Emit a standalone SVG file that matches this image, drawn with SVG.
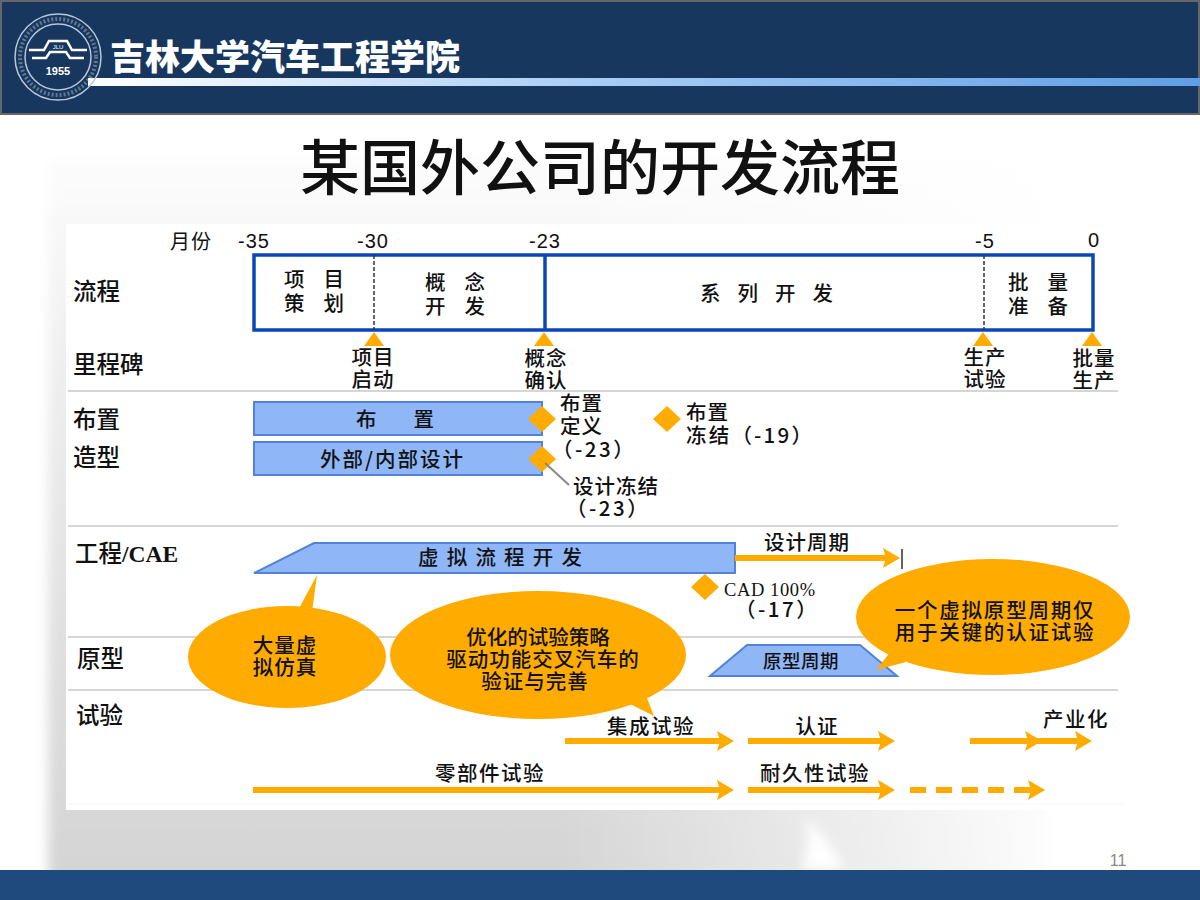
<svg xmlns="http://www.w3.org/2000/svg" width="1200" height="900" viewBox="0 0 1200 900">
<defs>
<linearGradient id="barGrad" x1="0" x2="1" y1="0" y2="0"><stop offset="0" stop-color="#ffffff"/><stop offset="0.45" stop-color="#a9cdf5"/><stop offset="1" stop-color="#5f9fe6"/></linearGradient>
<linearGradient id="vFade" x1="0" x2="0" y1="0" y2="1"><stop offset="0" stop-color="#fcfcfc"/><stop offset="0.35" stop-color="#ececec"/><stop offset="0.75" stop-color="#dcdcdc"/><stop offset="1" stop-color="#d4d4d4"/></linearGradient>
<linearGradient id="hFade" x1="0" x2="1" y1="0" y2="0"><stop offset="0" stop-color="#fff" stop-opacity="0"/><stop offset="1" stop-color="#fff"/></linearGradient>
<filter id="soft" x="-5%" y="-5%" width="110%" height="110%"><feGaussianBlur stdDeviation="6"/></filter>
<marker id="head" markerUnits="userSpaceOnUse" viewBox="0 0 17 20" refX="9" refY="10" markerWidth="17" markerHeight="20" orient="auto"><path d="M0 0L17 10L0 20L3 10Z" fill="#ffab00"/></marker>
</defs>
<style>
text{font-family:"Noto Sans CJK SC","Liberation Serif",sans-serif;fill:#111;font-weight:500}
.lab{font-size:23.5px}
.m{font-size:20.5px;letter-spacing:1px;text-anchor:middle}
.s{font-size:20.5px}
.num{font-family:"Liberation Serif","Noto Sans CJK SC",serif;font-weight:700}
.axis{font-size:20px;text-anchor:middle;letter-spacing:1px;font-weight:400;font-family:"Liberation Sans","Noto Sans CJK SC",sans-serif}
.grid{stroke:#d6d6d6;stroke-width:2;fill:none}
.bar{fill:#8fb6f7;stroke:#5482d6;stroke-width:2}
.arr{stroke:#ffab00;stroke-width:6;fill:none;marker-end:url(#head)}
.dia{fill:#ffab00}
.call{fill:#ffab00}
.frame{fill:#fff;stroke:#0b46b8;stroke-width:3.5}
</style>

<rect width="1200" height="900" fill="#fff"/>
<g id="background">
<rect x="48" y="160" width="1000" height="730" fill="url(#vFade)" filter="url(#soft)"/>
<rect x="560" y="140" width="520" height="740" fill="url(#hFade)"/>
<rect x="1080" y="140" width="120" height="740" fill="#fff"/>
<path d="M800 870Q815 840 803 815Q830 840 845 870Z" fill="#fff" filter="url(#soft)"/>
</g>

<g id="header">
<rect x="1" y="1" width="1198" height="113" fill="#17375e" stroke="#666" stroke-width="2"/>
<rect x="88" y="78" width="1112" height="8" fill="url(#barGrad)"/>
<text x="110" y="70" font-size="35" style="fill:#fff;font-weight:900">吉林大学汽车工程学院</text>
</g>

<g id="logo" fill="none" stroke="#b9c7d8">
<circle cx="58" cy="57" r="43" stroke-width="1.5"/>
<circle cx="58" cy="57" r="38" stroke-width="4" stroke-dasharray="2 2" opacity=".45"/>
<circle cx="58" cy="57" r="33" stroke-width="1.5"/>
<path d="M29 50H44L49 41H67L72 50H87M32 58H46L50 52H66L70 58H84" stroke="#fff" stroke-width="2.5"/>
<text x="58" y="49" font-size="6" text-anchor="middle" stroke="none" style="fill:#fff;font-family:'Liberation Sans',sans-serif">JLU</text>
<text x="58" y="75" font-size="11" text-anchor="middle" stroke="none" style="fill:#fff;font-weight:700;font-family:'Liberation Sans',sans-serif">1955</text>
</g>

<text id="title" x="600" y="190" font-size="60" text-anchor="middle">某国外公司的开发流程</text>

<rect id="panel" x="66" y="224" width="1056" height="586" fill="#fff"/>

<g id="grid-lines">
<path class="grid" d="M68 391H1118M68 526H1118M68 637H1118M68 690H1118"/>
<path d="M68 804H1122" stroke="#f4f4f4" stroke-width="1"/>
</g>

<g id="axis">
<text x="170" y="249" style="font-size:20px;font-weight:400" letter-spacing="1">月份</text>
<text class="axis" x="254" y="248">-35</text>
<text class="axis" x="373" y="248">-30</text>
<text class="axis" x="545" y="248">-23</text>
<text class="axis" x="985" y="248">-5</text>
<text class="axis" x="1094" y="247">0</text>
</g>

<g id="row-labels">
<text class="lab" x="73" y="300">流程</text>
<text class="lab" x="73" y="373">里程碑</text>
<text class="lab" x="73" y="428">布置</text>
<text class="lab" x="73" y="466">造型</text>
<text class="lab" x="75" y="562">工程<tspan class="num">/CAE</tspan></text>
<text class="lab" x="77" y="667">原型</text>
<text class="lab" x="76" y="724">试验</text>
</g>

<g id="node-flow">
<rect class="frame" x="254" y="255" width="839" height="75"/>
<path d="M545 255V330" stroke="#0b46b8" stroke-width="3.5"/>
<path d="M374 255V330M984 255V330" stroke="#333" stroke-width="1.5" stroke-dasharray="4 2"/>
<text class="s" letter-spacing="19" y="287"><tspan x="284">项目</tspan><tspan x="284" dy="24">策划</tspan></text>
<text class="s" letter-spacing="19" y="290"><tspan x="425">概念</tspan><tspan x="425" dy="24">开发</tspan></text>
<text class="s" letter-spacing="17" x="700" y="301">系列开发</text>
<text class="s" letter-spacing="19" y="290"><tspan x="1008">批量</tspan><tspan x="1008" dy="24">准备</tspan></text>
</g>

<g id="node-milestones">
<path class="dia" d="M374 332L384 346H364Z"/>
<path class="dia" d="M544 332L554 346H534Z"/>
<path class="dia" d="M983 332L993 346H973Z"/>
<path class="dia" d="M1092 332L1102 346H1082Z"/>
<text class="m" y="365"><tspan x="373">项目</tspan><tspan x="373" dy="22">启动</tspan></text>
<text class="m" y="366"><tspan x="546">概念</tspan><tspan x="546" dy="22">确认</tspan></text>
<text class="m" y="365"><tspan x="985">生产</tspan><tspan x="985" dy="22">试验</tspan></text>
<text class="m" y="366"><tspan x="1094">批量</tspan><tspan x="1094" dy="22">生产</tspan></text>
</g>

<g id="node-layout">
<rect class="bar" x="254" y="402" width="288" height="33"/>
<text class="s" x="356" y="427" letter-spacing="37">布置</text>
<rect class="bar" x="254" y="442" width="288" height="33"/>
<text class="s" x="320" y="467" letter-spacing="2">外部/内部设计</text>
<path class="dia" d="M542 406L556 419L542 432L528 419Z"/>
<path class="dia" d="M542 446L556 459L542 472L528 459Z"/>
<path class="dia" d="M667 406L681 419L667 432L653 419Z"/>
<path d="M545 463L569 485" stroke="#888" stroke-width="2"/>
<text class="s" y="411" letter-spacing="1"><tspan x="560">布置</tspan><tspan x="560" dy="23">定义</tspan><tspan x="552" dy="23" letter-spacing="2.5">（-23）</tspan></text>
<text class="s" y="420" letter-spacing="1"><tspan x="686">布置</tspan><tspan x="686" dy="23" letter-spacing="2.2">冻结（-19）</tspan></text>
<text class="s" y="494" letter-spacing="1"><tspan x="573">设计冻结</tspan><tspan x="566" dy="22" letter-spacing="2.5">（-23）</tspan></text>
</g>

<g id="node-cae">
<path class="bar" d="M254 573L314 543H735V573Z"/>
<text class="s" x="418" y="565" letter-spacing="8.2">虚拟流程开发</text>
<path class="dia" d="M705 574L719 587L705 600L691 587Z"/>
<text y="596"><tspan class="num" x="724" style="font-size:18.5px;font-weight:400" letter-spacing="0.6">CAD 100%</tspan><tspan class="s" x="735" dy="21" letter-spacing="2.5">（-17）</tspan></text>
<text class="m" x="807" y="550">设计周期</text>
<path d="M902 549V569" stroke="#333" stroke-width="1.5"/>
</g>

<g id="node-proto">
<path class="bar" d="M710 676L747 645H860L897 676Z"/>
<text class="m" x="801" y="668" style="font-size:18.5px;letter-spacing:.5px">原型周期</text>
</g>

<g id="connectors">
<path class="arr" d="M735 558H892"/>
<path class="arr" d="M565 741H726"/>
<path class="arr" d="M748 741H887"/>
<path class="arr" d="M970 741H1034"/>
<path class="arr" d="M1034 741H1084"/>
<path class="arr" d="M253 790H726"/>
<path class="arr" d="M748 790H887"/>
<path d="M910 790H1032" stroke="#ffab00" stroke-width="6" fill="none" stroke-dasharray="16 10"/>
<path class="arr" d="M1030 790H1037"/>
</g>

<g id="node-callout-1">
<path class="call" d="M317 575L297 612H312Z"/>
<ellipse class="call" cx="287" cy="657" rx="99" ry="51"/>
<text class="m" y="653"><tspan x="285">大量虚</tspan><tspan x="285" dy="22">拟仿真</tspan></text>
</g>
<g id="node-callout-2">
<path class="call" d="M654 716L628 703L645 693Z"/>
<ellipse class="call" cx="538" cy="655" rx="148" ry="64"/>
<text class="m" y="645"><tspan x="538" letter-spacing="0">优化的试验策略</tspan><tspan x="543" dy="22">驱动功能交叉汽车的</tspan><tspan x="535" dy="22">验证与完善</tspan></text>
</g>
<g id="node-callout-3">
<path class="call" d="M876 670L892 650L906 662Z"/>
<ellipse class="call" cx="993" cy="617" rx="137" ry="58"/>
<text class="m" y="618" style="letter-spacing:1.8px"><tspan x="995">一个虚拟原型周期仅</tspan><tspan x="995" dy="22">用于关键的认证试验</tspan></text>
</g>

<g id="test-labels">
<text class="m" x="651" y="734" style="letter-spacing:1.5px">集成试验</text>
<text class="m" x="817" y="734">认证</text>
<text class="m" x="1076" y="727" style="letter-spacing:1.5px">产业化</text>
<text class="m" x="490" y="781" style="letter-spacing:1.5px">零部件试验</text>
<text class="m" x="815" y="781" style="letter-spacing:1.5px">耐久性试验</text>
</g>

<g id="footer">
<rect x="0" y="870" width="1200" height="30" fill="#1f4a7d"/>
<text x="1118" y="866" font-size="16" text-anchor="middle" style="fill:#888;font-weight:400;font-family:'Liberation Sans',sans-serif">11</text>
</g>
</svg>
